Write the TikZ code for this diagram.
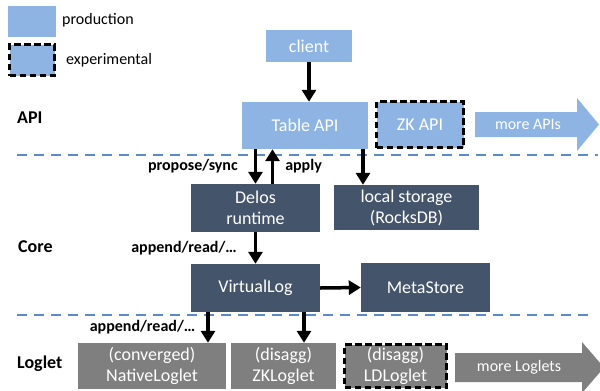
\documentclass[tikz,border=0pt]{standalone}
\usepackage{fontspec}
\setmainfont{Carlito}
\usetikzlibrary{arrows.meta}
\definecolor{prodblue}{RGB}{142,180,227}
\definecolor{coreslate}{RGB}{68,84,106}
\definecolor{logletgray}{RGB}{127,127,127}
\definecolor{sepblue}{RGB}{91,138,200}

\begin{document}
\begin{tikzpicture}[x=1pt,y=-1pt,
	blk/.style={inner sep=0pt,align=center,text=white,font=\fontsize{18}{21}\selectfont},
	api/.style={blk,fill=prodblue},
	core/.style={blk,fill=coreslate},
	loglet/.style={blk,fill=logletgray},
	expbox/.style={draw=black,line width=3pt,dash pattern=on 6.5pt off 3.5pt},
	arr/.style={line width=3.5pt,-{Triangle[length=12pt,width=14pt]}},
	lbl/.style={inner sep=0pt,font=\bfseries\fontsize{16}{18}\selectfont},
	keytext/.style={inner sep=0pt,anchor=west,font=\fontsize{16}{18}\selectfont},
	layer/.style={inner sep=0pt,anchor=west,font=\bfseries\fontsize{18}{20}\selectfont},
	layersep/.style={sepblue,line width=1.8pt,dash pattern=on 10pt off 7pt}]
			\useasboundingbox (0,0) rectangle (600,391);
			\node[api,minimum width=48pt,minimum height=31pt] (prodkey) at (32,21.5) {};
			\node[api,expbox,minimum width=45pt,minimum height=31pt] (expkey) at (32,60) {};
			\node[keytext] (prodtext) at (62,20) {production};
			\node[keytext] (exptext) at (66,60) {experimental};
			\node[layer] (apilayer) at (17,118) {API};
			\node[layer] (corelayer) at (18,247) {Core};
			\node[layer] (logletlayer) at (17,364) {Loglet};
			\draw[layersep] (17,155) -- (598,155);
			\draw[layersep] (17,315) -- (590,315);
			\node[api,minimum width=86pt,minimum height=32pt] (client) at (309,46) {client};
			\node[api,minimum width=126pt,minimum height=47pt] (tbl) at (305,125.5) {Table API};
			\node[api,expbox,minimum width=87pt,minimum height=46pt] (zk) at (420,124.5) {ZK API};
			\fill[prodblue] (475,112) -- (577,112) -- (577,98) -- (599,124.5) -- (577,151) -- (577,137) -- (475,137) -- cycle;
			\node[blk,font=\fontsize{16}{18}\selectfont] (moreapi) at (528,124.5) {more APIs};
			\node[core,minimum width=129pt,minimum height=48pt] (delos) at (255.5,208) {Delos\\runtime};
			\node[core,minimum width=145pt,minimum height=45pt] (local) at (406.5,207.5) {local storage\\(RocksDB)};
			\node[core,minimum width=129pt,minimum height=48pt] (vlog) at (255.5,288) {VirtualLog};
			\node[core,minimum width=129pt,minimum height=49pt] (meta) at (425.5,287.5) {MetaStore};
			\node[loglet,minimum width=148pt,minimum height=46pt] (native) at (152,366) {(converged)\\NativeLoglet};
			\node[loglet,minimum width=105pt,minimum height=46pt] (zkl) at (283.5,366) {(disagg)\\ZKLoglet};
			\node[loglet,expbox,minimum width=102pt,minimum height=43pt] (ldl) at (395.5,366) {(disagg)\\LDLoglet};
			\fill[logletgray] (455,353) -- (582,353) -- (582,342) -- (604,367.5) -- (582,393) -- (582,382) -- (455,382) -- cycle;
			\node[blk,font=\fontsize{16}{18}\selectfont] (morelog) at (519,367.5) {more Loglets};
			\draw[arr] (client.south) -- (client.south |- tbl.north);
			\draw[arr] (delos.north |- tbl.south) -- node[lbl,left=16pt] {propose/sync} (delos.north);
			\draw[arr] ([xshift=17pt]delos.north) -- node[lbl,right=11pt] {apply} ([xshift=17pt]delos.north |- tbl.south);
			\draw[arr] ([xshift=-43.5pt]local.north |- tbl.south) -- ([xshift=-43.5pt]local.north);
			\draw[arr] (delos.south) -- node[lbl,left=17pt] {append/read/…} (vlog.north);
			\draw[arr] (vlog.east) -- (meta.west);
			\draw[arr] ([xshift=56pt]native.north |- vlog.south) -- node[lbl,left=11pt] {append/read/…} ([xshift=56pt]native.north);
			\draw[arr] ([xshift=20.5pt]zkl.north |- vlog.south) -- ([xshift=20.5pt]zkl.north);
		\end{tikzpicture}
\end{document}
